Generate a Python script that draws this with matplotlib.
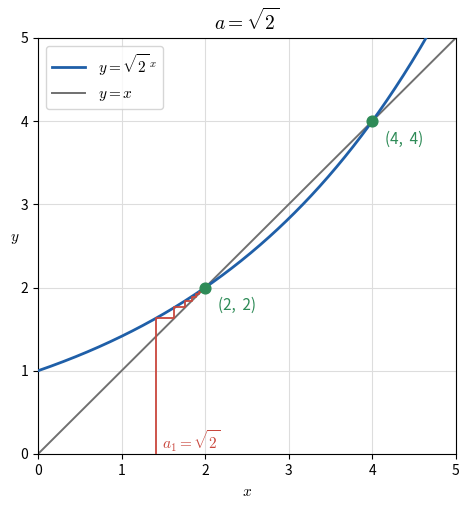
import numpy as np
import matplotlib
matplotlib.use("Agg")
import matplotlib.pyplot as plt

plt.rcParams['font.family'] = ['Noto Sans CJK JP', 'DejaVu Sans']
plt.rcParams['mathtext.fontset'] = 'cm'

# base of the exponential, a = sqrt(2)
base = np.sqrt(2)
# iterates a_1, a_2, ... of a_{n+1} = sqrt(2)^{a_n}
seq = [1.414, 1.633, 1.761, 1.840, 1.892, 1.927, 1.950, 1.966, 1.977, 1.984, 1.989]
fixed_x = [2, 4]
fixed_y = [2, 4]
fixed_labels = ['(2,  2)', '(4,  4)']

blue = '#1f5fa8'
gray = '#707070'
red = '#c9473d'
green = '#2e8b57'

fig, ax = plt.subplots(figsize=(4.69, 5.05), dpi=100)
fig.subplots_adjust(left=0.081, right=0.972, bottom=0.101, top=0.925)

x = np.linspace(0, 5, 400)
ax.plot(x, base ** x, color=blue, lw=2, label=r'$y=\sqrt{2}^{\,x}$', zorder=3)
ax.plot(x, x, color=gray, lw=1.4, label=r'$y=x$', zorder=2)

# cobweb
cx = [seq[0], seq[0]]
cy = [0, seq[1]]
for i in range(1, len(seq) - 1):
    cx += [seq[i], seq[i]]
    cy += [seq[i], seq[i + 1]]
ax.plot(cx, cy, color=red, lw=1.3, zorder=4)
ax.text(seq[0] + 0.07, 0.06, r'$a_1=\sqrt{2}$', color=red, fontsize=11)

ax.scatter(fixed_x, fixed_y, s=60, color=green, zorder=5)
for fx, fy, lab in zip(fixed_x, fixed_y, fixed_labels):
    ax.text(fx + 0.15, fy - 0.27, lab, color=green, fontsize=11)

ax.set_xlim(0, 5)
ax.set_ylim(0, 5)
ax.set_xticks(range(6))
ax.set_yticks(range(6))
ax.grid(color='#dddddd', lw=0.8)
ax.set_xlabel(r'$x$', fontsize=11)
ax.set_ylabel(r'$y$', fontsize=11, rotation=0, labelpad=4)
ax.set_title(r'$a=\sqrt{2}$', fontsize=14)
ax.legend(loc='upper left', fontsize=11, handlelength=2.2)

plt.savefig('out.png')
